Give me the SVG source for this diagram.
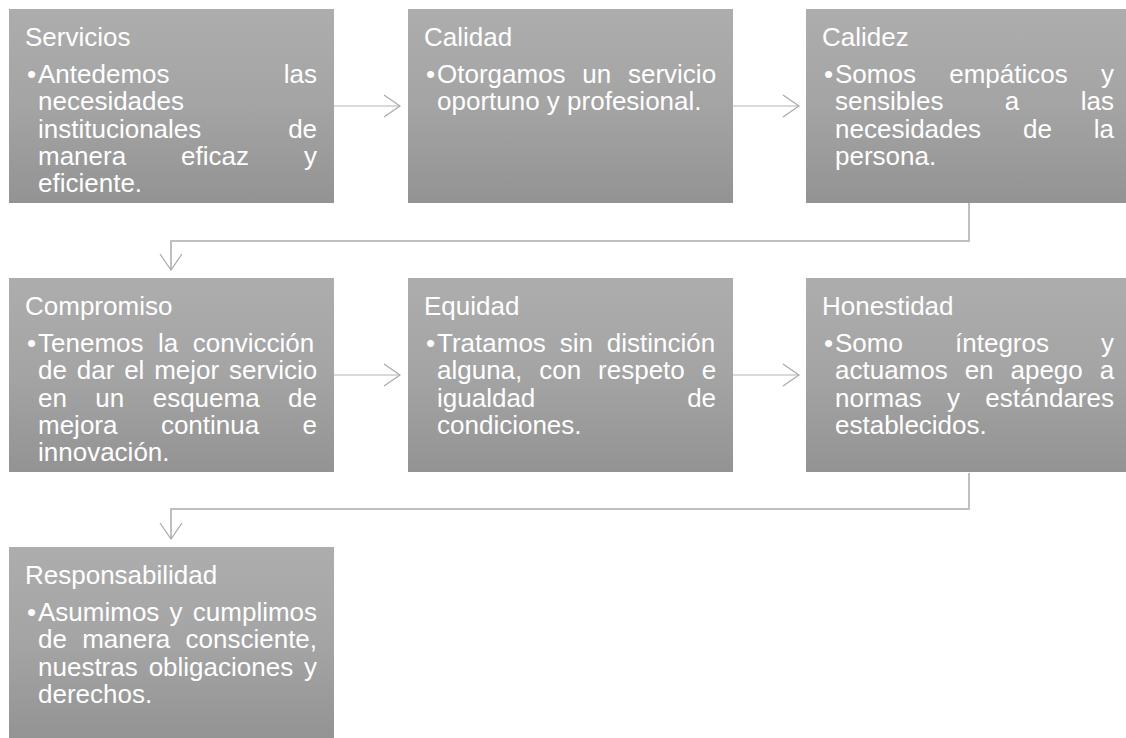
<svg xmlns="http://www.w3.org/2000/svg" width="1126" height="738" viewBox="0 0 1126 738">
<defs>
<linearGradient id="g" x1="0" y1="0" x2="0" y2="1">
<stop offset="0" stop-color="#adadad"/>
<stop offset="0.5" stop-color="#a4a4a4"/>
<stop offset="1" stop-color="#939393"/>
</linearGradient>
<marker id="ah" viewBox="0 0 18 24" refX="17" refY="12" markerWidth="18" markerHeight="24" markerUnits="userSpaceOnUse" orient="auto">
<path d="M1,1 L17,12 L1,23" fill="none" stroke="#a8a8a8" stroke-width="1.2"/>
</marker>
</defs>
<style>
.box{fill:url(#g);}
text{font-family:"Liberation Sans",Arial,sans-serif;font-size:26px;fill:#ffffff;}
.c{fill:none;stroke:#b4b4b4;stroke-width:1.2;}
.cb{fill:none;stroke:#c0c0c0;stroke-width:2;}
</style>
<rect width="1126" height="738" fill="#ffffff"/>
<g id="connectors">
<path class="c" d="M334,106 H400" marker-end="url(#ah)"/>
<path class="c" d="M733,106 H799" marker-end="url(#ah)"/>
<path class="cb" d="M969,203 V241 H171 V270" marker-end="url(#ah)"/>
<path class="c" d="M334,375 H400" marker-end="url(#ah)"/>
<path class="c" d="M733,375 H799" marker-end="url(#ah)"/>
<path class="cb" d="M969,473 V509 H171 V539" marker-end="url(#ah)"/>
</g>
<g id="servicios">
<rect class="box" x="9" y="9" width="325" height="194"/>
<text x="25" y="46">Servicios</text>
<text x="27" y="83">•</text>
<text x="38" y="83" word-spacing="107">Antedemos las</text>
<text x="38" y="110.3">necesidades</text>
<text x="38" y="137.6" word-spacing="79.6">institucionales de</text>
<text x="38" y="164.9" word-spacing="47.7">manera eficaz y</text>
<text x="38" y="192.2">eficiente.</text>
</g>
<g id="calidad">
<rect class="box" x="408" y="9" width="325" height="194"/>
<text x="424" y="46">Calidad</text>
<text x="426" y="83">•</text>
<text x="437" y="83" word-spacing="9.5">Otorgamos un servicio</text>
<text x="437" y="110.3">oportuno y profesional.</text>
</g>
<g id="calidez">
<rect class="box" x="806" y="9" width="325" height="194"/>
<text x="822" y="46">Calidez</text>
<text x="824" y="83">•</text>
<text x="835" y="83" word-spacing="26.1">Somos empáticos y</text>
<text x="835" y="110.3" word-spacing="54.2">sensibles a las</text>
<text x="835" y="137.6" word-spacing="34.7">necesidades de la</text>
<text x="835" y="164.9">persona.</text>
</g>
<g id="compromiso">
<rect class="box" x="9" y="278" width="325" height="194"/>
<text x="25" y="315">Compromiso</text>
<text x="27" y="352">•</text>
<text x="38" y="352" word-spacing="7.3">Tenemos la convicción</text>
<text x="38" y="379.3" word-spacing="2.6">de dar el mejor servicio</text>
<text x="38" y="406.6" word-spacing="21.2">en un esquema de</text>
<text x="38" y="433.9" word-spacing="36.2">mejora continua e</text>
<text x="38" y="461.2">innovación.</text>
</g>
<g id="equidad">
<rect class="box" x="408" y="278" width="325" height="194"/>
<text x="424" y="315">Equidad</text>
<text x="426" y="352">•</text>
<text x="437" y="352" word-spacing="6.6">Tratamos sin distinción</text>
<text x="437" y="379.3" word-spacing="9.7">alguna, con respeto e</text>
<text x="437" y="406.6" word-spacing="144.6">igualdad de</text>
<text x="437" y="433.9">condiciones.</text>
</g>
<g id="honestidad">
<rect class="box" x="806" y="278" width="325" height="194"/>
<text x="822" y="315">Honestidad</text>
<text x="824" y="352">•</text>
<text x="835" y="352" word-spacing="44.9">Somo íntegros y</text>
<text x="835" y="379.3" word-spacing="9.7">actuamos en apego a</text>
<text x="835" y="406.6" word-spacing="18.1">normas y estándares</text>
<text x="835" y="433.9">establecidos.</text>
</g>
<g id="responsabilidad">
<rect class="box" x="9" y="547" width="325" height="194"/>
<text x="25" y="584">Responsabilidad</text>
<text x="27" y="621">•</text>
<text x="38" y="621" word-spacing="3">Asumimos y cumplimos</text>
<text x="38" y="648.3" word-spacing="8">de manera consciente,</text>
<text x="38" y="675.6" word-spacing="3.7">nuestras obligaciones y</text>
<text x="38" y="702.9">derechos.</text>
</g>
</svg>
